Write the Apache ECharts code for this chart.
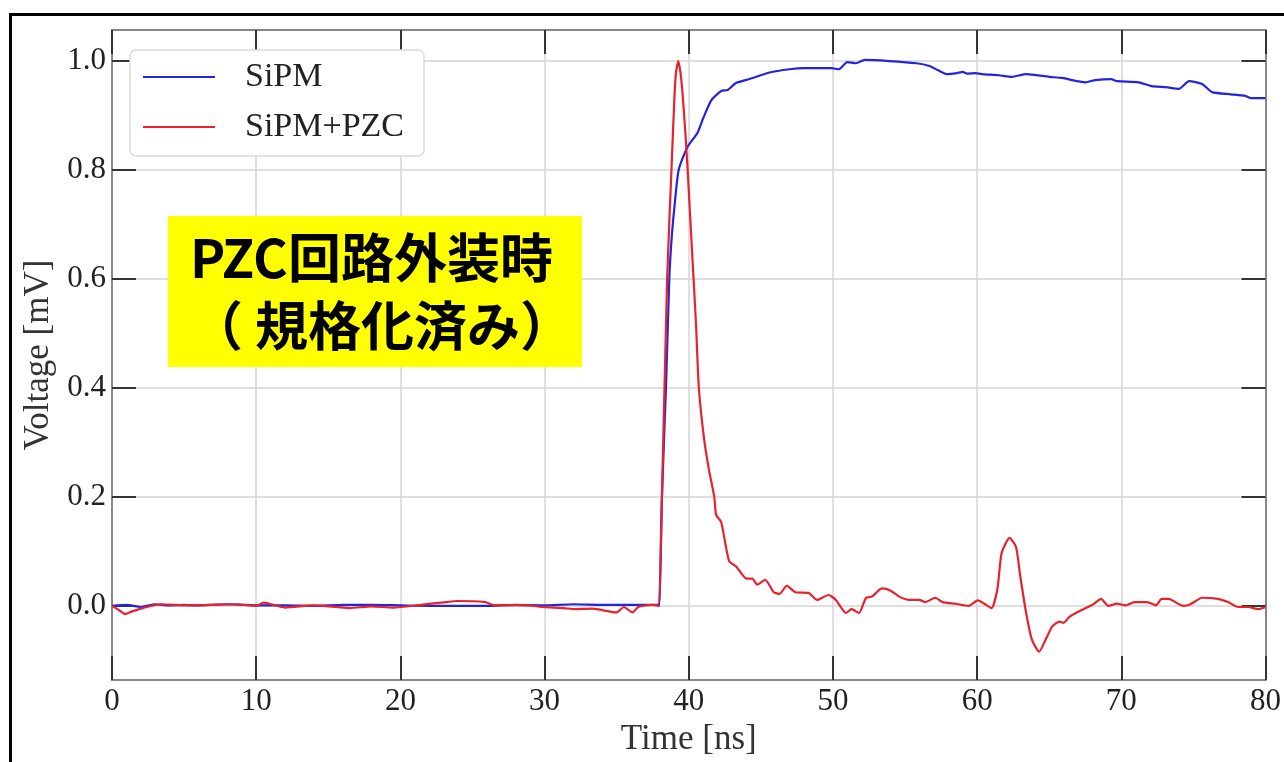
<!DOCTYPE html>
<html>
<head>
<meta charset="utf-8">
<title>SiPM PZC</title>
<script src="https://cdn.jsdelivr.net/npm/echarts@6/dist/echarts.min.js"></script>
<style>
  html, body { margin: 0; padding: 0; background: #fff; }
  #chart { width: 1284px; height: 762px; }
</style>
</head>
<body>
<div id="chart"></div>
<script>
// time [ns] / normalised voltage
var sipmTime = [0, 1, 2, 3, 4, 5, 6, 7, 8, 9, 10, 12, 14, 16, 18, 20, 22, 24, 26, 28, 30, 32, 34, 36, 37.9,
  37.95, 38.14, 38.42, 38.65, 38.8, 39.0, 39.3, 39.9, 40.6, 41.0, 41.56, 42.25, 42.7, 43.3, 44.2, 45.6, 47.0, 48.0, 49.9, 50.4,
  51.0, 51.6, 52.2, 53.9, 55.8, 56.7, 57.3, 57.9, 58.6, 59.0, 59.3, 59.9, 60.3, 61.5, 62.4, 63.4, 65.0, 65.9,
  67.5, 68.2, 69.3, 69.7, 71.2, 72.1, 73.1, 74.0, 74.7, 75.6, 76.3, 77.6, 78.6, 79.0, 80];
var sipmVolt = [0, 0.002, -0.002, 0.003, 0.001, 0.002, 0.001, 0.002, 0.003, 0.002, 0.001, 0.001, 0.0, 0.002, 0.002, 0.001, 0.0, 0.0, 0.0, 0.002, 0.001, 0.003, 0.002, 0.002, 0.002,
  0.0, 0.2, 0.4, 0.6, 0.67, 0.73, 0.8, 0.842, 0.868, 0.895, 0.928, 0.945, 0.947, 0.96, 0.967, 0.979, 0.985, 0.987, 0.987, 0.985,
  0.998, 0.996, 1.002, 1.0, 0.996, 0.991, 0.983, 0.976, 0.978, 0.98, 0.977, 0.978, 0.976, 0.974, 0.971, 0.976, 0.971, 0.969,
  0.961, 0.965, 0.967, 0.963, 0.961, 0.954, 0.952, 0.949, 0.963, 0.958, 0.943, 0.939, 0.936, 0.932, 0.932];

var pzcTime = [0, 0.5, 0.9, 1.4, 2.14, 3.37, 5.35, 8.57, 10.05, 10.5, 12.0, 14.0, 16.5, 18.0, 19.5, 21.4, 23.2, 23.9, 25.9, 26.4,
  28.9, 29.8, 31.3, 32.1, 33.3, 35.0, 35.5, 36.1, 36.5, 37.5, 37.9,
  38.14, 38.5, 38.8, 39.0, 39.12, 39.28, 39.42, 39.55, 39.8, 40.0, 40.25, 40.5, 40.7, 41.07, 41.4, 41.77, 41.9, 42.25, 42.8, 43.3,
  44.0, 44.4, 44.75, 45.3, 45.9, 46.3, 46.8, 47.4, 48.3, 48.9, 49.7, 50.2, 50.9, 51.3, 51.8, 52.3, 52.7, 53.4, 54.0,
  54.6, 55.3, 56.0, 56.4, 57.1, 57.6, 58.5, 59.4, 60.05, 60.5, 61.0, 61.4, 61.7, 62.25, 62.7, 63.0, 63.4, 63.8,
  64.3, 64.75, 65.2, 65.7, 66.0, 66.4, 67.3, 68.0, 68.6, 69.1, 69.7, 70.3, 70.9, 71.8, 72.4, 72.8, 73.3, 73.8,
  74.3, 74.8, 75.6, 76.7, 77.4, 78.1, 78.8, 79.5, 80];
var pzcVolt = [0, -0.008, -0.015, -0.01, -0.004, 0.003, 0.001, 0.003, 0.0, 0.006, -0.003, 0.001, -0.004, -0.001, -0.003, 0.002, 0.007, 0.009, 0.007, 0.002,
  0.001, -0.002, -0.004, -0.006, -0.005, -0.012, -0.002, -0.012, -0.002, 0.002, 0.0,
  0.2, 0.6, 0.8, 0.93, 0.98, 1.0, 0.98, 0.947, 0.855, 0.763, 0.64, 0.519, 0.4, 0.305, 0.25, 0.2, 0.167, 0.154, 0.082, 0.072,
  0.05, 0.05, 0.039, 0.048, 0.025, 0.022, 0.037, 0.025, 0.024, 0.011, 0.02, 0.011, -0.013, -0.006, -0.013, 0.015, 0.017, 0.032, 0.028,
  0.017, 0.011, 0.011, 0.007, 0.015, 0.007, 0.004, 0.0, 0.01, 0.004, -0.004, 0.03, 0.097, 0.125, 0.108, 0.053, -0.013, -0.062,
  -0.084, -0.062, -0.038, -0.029, -0.031, -0.02, -0.007, 0.002, 0.013, 0.0, 0.004, 0.001, 0.007, 0.007, 0.001, 0.013, 0.013, 0.006,
  0.0, 0.003, 0.015, 0.013, 0.007, -0.002, -0.002, -0.006, -0.002];

var yTicks = [0, 0.2, 0.4, 0.6, 0.8, 1.0];

function pairs(xs, ys) {
  return xs.map(function (x, i) { return [x, ys[i]]; });
}

var chart = echarts.init(document.getElementById('chart'));
var serif = '"Liberation Serif", "DejaVu Serif", serif';
var frameLine = { onZero: false, show: true, lineStyle: { color: '#888', width: 2 } };
var innerTick = { inside: true, length: 24, lineStyle: { color: '#333', width: 2 } };

chart.setOption({
  backgroundColor: '#fff',
  animation: false,
  grid: { left: 112, top: 30, right: 17, bottom: 82 },
  legend: {
    orient: 'vertical',
    left: 130,
    top: 50,
    data: ['SiPM', 'SiPM+PZC'],
    icon: 'rect',
    itemWidth: 72,
    itemHeight: 2,
    itemGap: 16,
    padding: [10, 20, 12, 13],
    backgroundColor: '#fff',
    borderColor: '#dcdcdc',
    borderWidth: 1.5,
    borderRadius: 6,
    textStyle: { fontFamily: serif, fontSize: 34, color: '#222', padding: [0, 0, 0, 25] }
  },
  xAxis: [{
    type: 'value',
    min: 0, max: 80, interval: 10,
    name: 'Time [ns]',
    nameLocation: 'middle',
    nameGap: 40,
    nameTextStyle: { fontFamily: serif, fontSize: 35, color: '#333' },
    axisLine: frameLine,
    axisTick: innerTick,
    axisLabel: { fontFamily: serif, fontSize: 31, color: '#222', margin: 6 },
    splitLine: { show: true, lineStyle: { color: '#d4d4d4', width: 1.5 } }
  }, {
    type: 'value', position: 'top',
    min: 0, max: 80, interval: 10,
    axisLine: frameLine,
    axisTick: innerTick,
    axisLabel: { show: false },
    splitLine: { show: false }
  }],
  yAxis: [{
    type: 'value',
    min: -0.136, max: 1.057,
    name: 'Voltage [mV]',
    nameLocation: 'middle',
    nameGap: 55,
    nameTextStyle: { fontFamily: serif, fontSize: 35, color: '#333' },
    axisLine: frameLine,
    axisTick: { inside: true, length: 24, customValues: yTicks, lineStyle: { color: '#333', width: 2 } },
    axisLabel: {
      customValues: yTicks, fontFamily: serif, fontSize: 31, color: '#222', margin: 6,
      formatter: function (v) { return v.toFixed(1); }
    },
    splitLine: { show: true, lineStyle: { color: '#d4d4d4', width: 1.5 } }
  }, {
    type: 'value', position: 'right',
    min: -0.136, max: 1.057,
    axisLine: frameLine,
    axisTick: { inside: true, length: 24, customValues: yTicks, lineStyle: { color: '#333', width: 2 } },
    axisLabel: { show: false, customValues: yTicks },
    splitLine: { show: false }
  }],
  series: [{
    name: 'SiPM',
    type: 'line',
    data: pairs(sipmTime, sipmVolt),
    symbol: 'none',
    smooth: 0.2,
    lineStyle: { color: '#2424dc', width: 2.2 },
    itemStyle: { color: '#2424dc' }
  }, {
    name: 'SiPM+PZC',
    type: 'line',
    data: pairs(pzcTime, pzcVolt),
    symbol: 'none',
    smooth: 0.2,
    lineStyle: { color: '#e8222c', width: 2.2 },
    itemStyle: { color: '#e8222c' }
  }],
  graphic: [{
    type: 'rect',
    shape: { x: 10.5, y: 14.5, width: 1300, height: 800 },
    style: { fill: 'none', stroke: '#000', lineWidth: 3 },
    silent: true
  }, {
    type: 'rect',
    shape: { x: 168, y: 216, width: 414, height: 151 },
    style: { fill: '#ffff00' },
    z: 100
  }, {
    type: 'text',
    x: 190, y: 258,
    z: 101,
    style: {
      text: 'PZC回路外装時',
      font: 'bold 53px "Noto Sans CJK JP", sans-serif',
      fill: '#000',
      verticalAlign: 'middle'
    }
  }, {
    type: 'text',
    x: 190, y: 326,
    z: 101,
    style: {
      text: '（ 規格化済み）',
      font: 'bold 53px "Noto Sans CJK JP", sans-serif',
      fill: '#000',
      verticalAlign: 'middle'
    }
  }]
});
</script>
</body>
</html>
